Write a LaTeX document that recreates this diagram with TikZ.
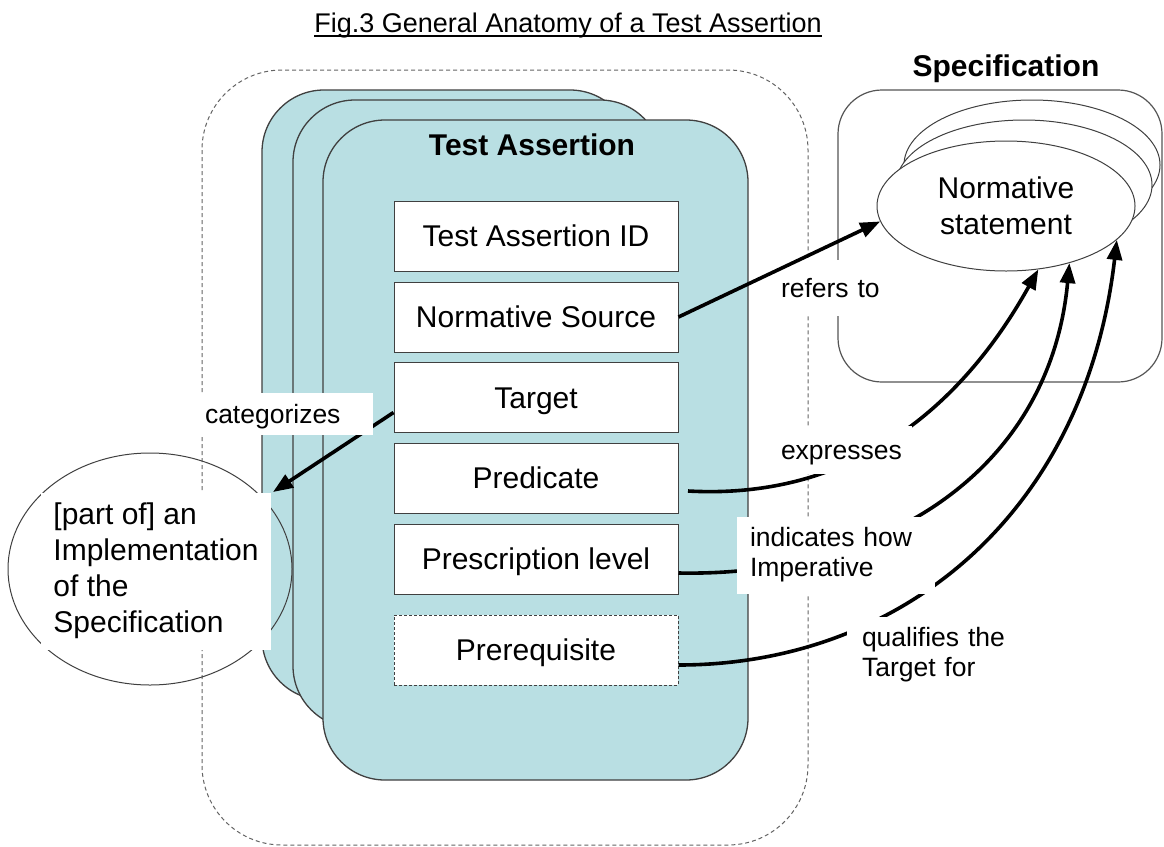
\documentclass[tikz,border=0pt]{standalone}
\usepackage{fontspec}
\setmainfont{Liberation Sans}
\usetikzlibrary{arrows.meta,shapes.geometric,calc}
\definecolor{cardfill}{RGB}{185,223,227}
\definecolor{cardline}{RGB}{64,64,64}
\definecolor{dashline}{RGB}{100,100,100}
\definecolor{specline}{RGB}{85,85,85}
\begin{document}
\begin{tikzpicture}[x=1pt,y=-1pt,
  card/.style={draw=cardline,fill=cardfill,line width=1.3pt,rounded corners=62pt},
  field/.style={draw=cardline,fill=white,line width=1pt,minimum width=284pt,minimum height=70pt,inner sep=0pt,text height=21.5pt,text depth=0pt,font=\fontsize{30}{36}\selectfont},
  lbl/.style={fill=white,inner ysep=0pt,font=\fontsize{26.5}{30}\selectfont,align=left},
  onel/.style={text height=19pt,text depth=0pt},
  conn/.style={line width=3.6pt,-{Triangle[length=20pt,width=15pt]}},
  ell/.style={ellipse,draw=cardline,fill=white,line width=1pt,minimum width=256pt,minimum height=130pt,inner sep=0pt},
  big/.style={font=\fontsize{30}{36}\selectfont},
  bigb/.style={font=\bfseries\fontsize{30}{36}\selectfont}
]
\useasboundingbox (0,0) rectangle (1164,846);
\fill[white] (0,0) rectangle (1164,846);

% title
\node[inner sep=0pt,anchor=base,font=\fontsize{27}{32}\selectfont] (title) at (568,32) {Fig.3 General Anatomy of a Test Assertion};
\draw[line width=1.3pt] ($(title.base west)+(0,4)$) -- ($(title.base east)+(0,4)$);

% outer dashed frame
\draw[dashline,dash pattern=on 4pt off 3pt,line width=1pt,rounded corners=80pt] (202,70) rectangle (808,845);

% stacked cards
\draw[card] (262,90) rectangle (632,700);
\draw[card] (293,100) rectangle (662,728);
\draw[card] (323,120) rectangle (748,780);
\node[bigb,text height=21.5pt,text depth=0pt] (tatitle) at (532,145) {Test Assertion};

% fields
\node[field] (taid) at (536,236) {Test Assertion ID};
\node[field] (nsrc) at (536,317) {Normative Source};
\node[field] (tgt)  at (536,397.5) {Target};
\node[field] (pred) at (536,478) {Predicate};
\node[field] (pres) at (536,559) {Prescription level};
\node[field,dash pattern=on 3pt off 2pt] (prq) at (536,650) {Prerequisite};

% specification
\node[bigb,text height=21.5pt,text depth=0pt] (spectitle) at (1006,66) {Specification};
\draw[specline,line width=1.2pt,rounded corners=44pt] (838,90) rectangle (1162,382);
\node[ell] (ne3) at (1032,165) {};
\node[ell] (ne2) at (1024,185) {};
\node[ell,big,align=center,minimum width=258pt] (normst) at (1006,206) {Normative\\statement};

% implementation ellipse
\node[ellipse,draw=cardline,line width=1pt,minimum width=284pt,minimum height=232pt,inner sep=0pt] (impl) at (150,569) {};
\node[fill=white,inner xsep=12.5pt,inner ysep=0pt,minimum height=157pt,align=left,big] (impltext) at (156,571) {[part of] an\\Implementation\\of the\\Specification};

% categorizes
\coordinate (catend) at (273,492);
\draw[conn] ($(tgt.west)+(0,15)$) -- (catend);
\node[lbl,onel,inner xsep=5pt,text width=163pt,minimum height=42pt] (lcat) at (286.5,414) {categorizes};

% curves to normative statement
\coordinate (c1s) at (688,491);
\draw[conn] (c1s) .. controls (850,500) and (960,410) .. (normst.297);
\draw[conn] ($(pres.east)+(0,14)$) .. controls (885,577) and (1050,470) .. (normst.318);
\draw[conn] ($(prq.east)+(0,15)$) .. controls (900,665) and (1085,515) .. (normst.343);

% labels
\node[lbl,onel,inner xsep=5pt,text width=126pt,minimum height=48pt] (lexp) at (844,450) {expresses};
\node[lbl,inner xsep=13pt,text width=172pt,minimum height=77pt] (lind) at (836,555) {indicates how\\Imperative};
\node[lbl,inner xsep=15pt,text width=152pt,minimum height=77pt] (lqual) at (938,655) {qualifies the\\Target for};
\node[lbl,onel,inner xsep=9pt,text width=100pt,minimum height=56pt] (lref) at (831,288) {refers to};

% refers to
\draw[conn] (nsrc.east) -- (normst.187);
\end{tikzpicture}
\end{document}
